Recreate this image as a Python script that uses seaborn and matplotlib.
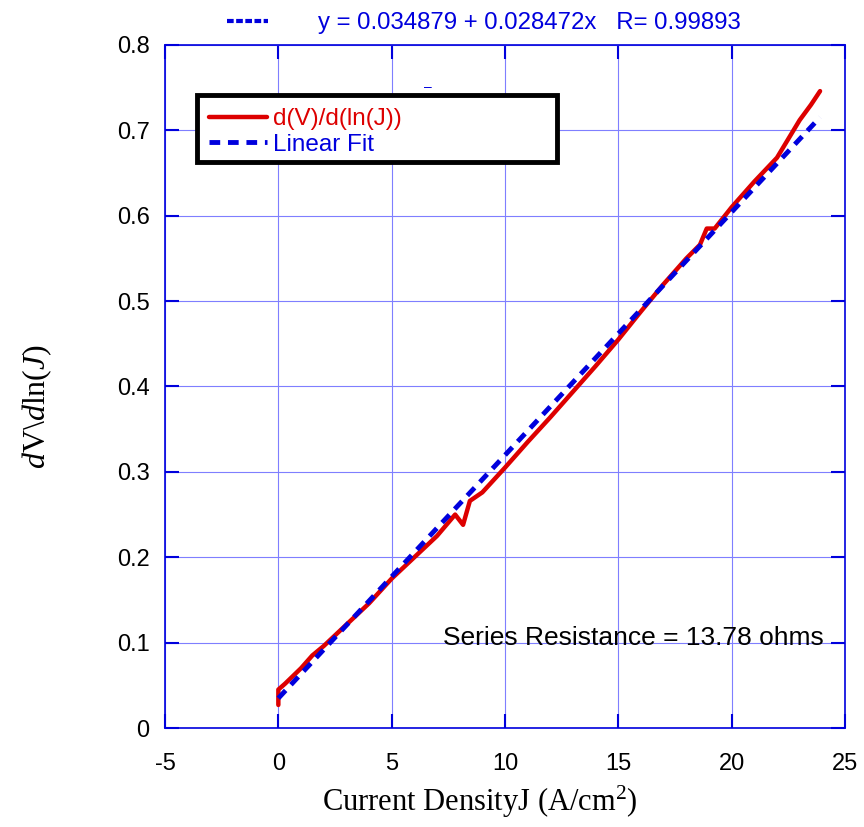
import matplotlib
matplotlib.use("Agg")
import matplotlib.pyplot as plt
from matplotlib.lines import Line2D
from matplotlib.patches import Rectangle
import numpy as np
import pandas as pd
import seaborn as sns

# ---- data ----
j_vals = [0.0, 0.0, 0.3, 1.0, 1.5, 2.0, 3.0, 4.0, 5.0, 6.0, 7.0, 7.8, 8.15, 8.45,
          9.0, 10.0, 11.0, 12.0, 13.0, 14.0, 15.0, 16.0, 17.0, 18.0, 18.6, 18.9,
          19.25, 20.0, 21.0, 22.0, 23.0, 23.5, 23.9]
dvdlnj_vals = [0.027, 0.045, 0.052, 0.070, 0.085, 0.096, 0.121, 0.146, 0.175, 0.200,
               0.225, 0.250, 0.238, 0.266, 0.276, 0.305, 0.335, 0.364, 0.394, 0.424,
               0.455, 0.488, 0.520, 0.550, 0.566, 0.585, 0.585, 0.610, 0.640, 0.668,
               0.712, 0.730, 0.746]
fit_intercept = 0.034879
fit_slope = 0.028472
fit_R = 0.99893
fit_x = [0.0, 23.9]
x_ticks = [-5, 0, 5, 10, 15, 20, 25]
y_ticks = [0, 0.1, 0.2, 0.3, 0.4, 0.5, 0.6, 0.7, 0.8]

data_df = pd.DataFrame({"J": j_vals, "dV": dvdlnj_vals})
fit_df = pd.DataFrame({"J": fit_x,
                       "fit": [fit_intercept + fit_slope * x for x in fit_x]})

sns.set_style("white")
plt.rcParams["font.family"] = ["Liberation Sans", "DejaVu Sans"]
plt.rcParams["mathtext.fontset"] = "custom"
plt.rcParams["mathtext.rm"] = "Liberation Serif"
plt.rcParams["mathtext.it"] = "Liberation Serif:italic"

BLUE = "#0000dd"
RED = "#dd0000"
GRID = "#7f7fff"

fig = plt.figure(figsize=(8.64, 8.27), dpi=100)
ax = fig.add_axes([0.191, 0.1197, 0.787, 0.8259])

sns.lineplot(data=data_df, x="J", y="dV", ax=ax, color=RED, lw=3.2,
             sort=False, estimator=None, label="d(V)/d(ln(J))")
sns.lineplot(data=fit_df, x="J", y="fit", ax=ax, color=BLUE, lw=3.5,
             estimator=None, label="Linear Fit")
ax.lines[1].set_dashes([2.2, 1.6])

ax.set_xlim(-5, 25)
ax.set_ylim(0, 0.8)
ax.set_xticks(x_ticks)
ax.set_yticks(y_ticks)
ax.set_xticklabels([str(t) for t in x_ticks])
ax.set_yticklabels(["0" if t == 0 else f"{t:.1f}" for t in y_ticks])
ax.grid(True, color=GRID, lw=0.8)
ax.set_axisbelow(True)
for s in ax.spines.values():
    s.set_color(BLUE)
    s.set_linewidth(1.2)
ax.tick_params(direction="in", length=10, width=1.5, color=BLUE,
               labelsize=17, labelcolor="black", top=True, right=True,
               bottom=True, left=True)
ax.tick_params(axis="x", pad=18)
ax.tick_params(axis="y", pad=11)

ax.set_xlabel("Current DensityJ (A/cm$^2$)", family="Liberation Serif",
              fontsize=22, color="black")
ax.xaxis.set_label_coords(0.463, -0.082)
ax.set_ylabel(r"$d\mathrm{V}\backslash d\mathrm{ln}(J)$", fontsize=23,
              color="black")
ax.yaxis.set_label_coords(-0.163, 0.47)

# legend box (wider than its content, as in the reference)
ax.add_patch(Rectangle((0.047, 0.829), 0.529, 0.098, transform=ax.transAxes,
                       facecolor="white", edgecolor="black", lw=3.5, zorder=4))
leg = ax.legend(loc="upper left", bbox_to_anchor=(0.036, 0.936), frameon=False,
                fontsize=17.5, handlelength=2.4, borderpad=0.3,
                labelspacing=0.15, handletextpad=0.22)
leg.set_zorder(5)
for txt, c in zip(leg.get_texts(), [RED, BLUE]):
    txt.set_color(c)

ax.text(24.05, 0.105, "Series Resistance = 13.78 ohms", ha="right", va="center",
        fontsize=19, color="black")
ax.text(6.6, 0.751, "–", ha="center", va="center", fontsize=10, color=BLUE)

top_handle = Line2D([], [], color=BLUE, lw=3.0, dashes=[1.6, 0.6])
fig.legend(handles=[top_handle],
           labels=[f"y = {fit_intercept} + {fit_slope}x   R= {fit_R}"],
           loc="center", bbox_to_anchor=(0.56, 0.972), frameon=False,
           fontsize=17.3, handlelength=1.7, labelcolor=BLUE, handletextpad=2.1)

fig.savefig("out.png", dpi=100)
